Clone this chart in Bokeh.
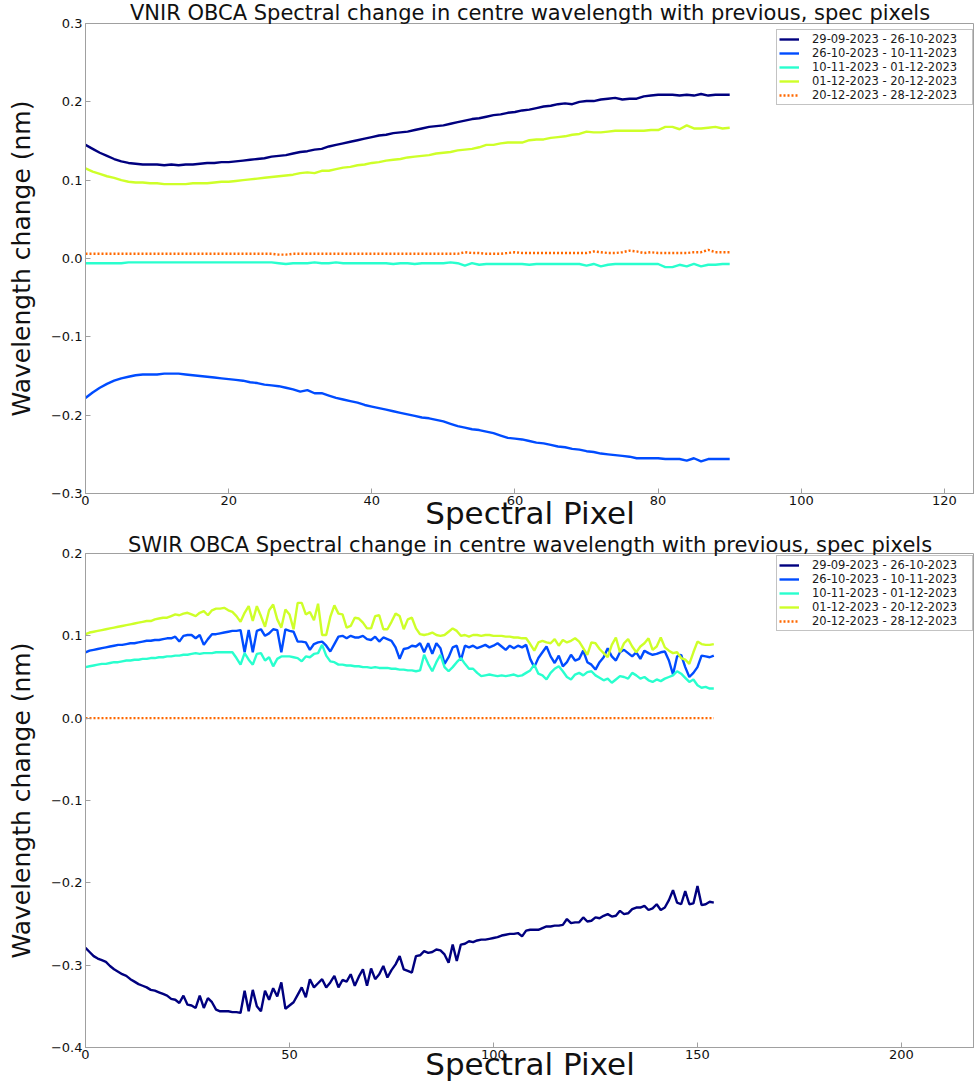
from bokeh.plotting import figure
from bokeh.layouts import column
from bokeh.models import Range1d, FixedTicker, CustomJSTickFormatter, Legend, LegendItem
from bokeh.embed import file_html
from bokeh.resources import INLINE

# ---------------- data ----------------
period_labels = [
    "29-09-2023 - 26-10-2023",
    "26-10-2023 - 10-11-2023",
    "10-11-2023 - 01-12-2023",
    "01-12-2023 - 20-12-2023",
    "20-12-2023 - 28-12-2023",
]
series_colors = ["#00007f", "#004cff", "#29ffce", "#ceff29", "#ff6800"]

vnir_pixels = list(range(91))
vnir_p1 = [
    0.145, 0.140, 0.135, 0.131, 0.127, 0.124, 0.122, 0.121, 0.120, 0.120,
    0.120, 0.119, 0.120, 0.119, 0.120, 0.120, 0.121, 0.122, 0.122, 0.123,
    0.123, 0.124, 0.125, 0.126, 0.127, 0.128, 0.130, 0.131, 0.132, 0.134,
    0.136, 0.137, 0.139, 0.140, 0.143, 0.145, 0.147, 0.149, 0.151, 0.153,
    0.155, 0.157, 0.158, 0.160, 0.161, 0.162, 0.164, 0.166, 0.168, 0.169,
    0.170, 0.172, 0.174, 0.176, 0.178, 0.179, 0.181, 0.183, 0.184, 0.186,
    0.187, 0.189, 0.190, 0.192, 0.194, 0.195, 0.197, 0.198, 0.197, 0.200,
    0.201, 0.201, 0.203, 0.204, 0.205, 0.203, 0.204, 0.204, 0.207, 0.208,
    0.209, 0.209, 0.209, 0.208, 0.209, 0.208, 0.210, 0.208, 0.209, 0.209,
    0.209,
]
vnir_p2 = [
    -0.178, -0.171, -0.165, -0.160, -0.156, -0.153, -0.151, -0.149, -0.148, -0.148,
    -0.148, -0.147, -0.147, -0.147, -0.148, -0.149, -0.150, -0.151, -0.152, -0.153,
    -0.154, -0.155, -0.156, -0.158, -0.159, -0.161, -0.162, -0.163, -0.165, -0.167,
    -0.170, -0.168, -0.172, -0.172, -0.175, -0.178, -0.180, -0.182, -0.184, -0.187,
    -0.189, -0.191, -0.193, -0.195, -0.197, -0.199, -0.201, -0.203, -0.204, -0.206,
    -0.208, -0.211, -0.214, -0.216, -0.218, -0.219, -0.221, -0.223, -0.226, -0.229,
    -0.230, -0.231, -0.233, -0.235, -0.236, -0.238, -0.240, -0.241, -0.243, -0.244,
    -0.246, -0.247, -0.249, -0.250, -0.251, -0.252, -0.253, -0.255, -0.255, -0.255,
    -0.255, -0.256, -0.256, -0.256, -0.258, -0.255, -0.259, -0.256, -0.256, -0.256,
    -0.256,
]
vnir_p3 = [
    -0.006, -0.006, -0.006, -0.006, -0.006, -0.006, -0.005, -0.005, -0.005, -0.005,
    -0.005, -0.005, -0.005, -0.005, -0.005, -0.005, -0.005, -0.005, -0.005, -0.005,
    -0.005, -0.005, -0.005, -0.005, -0.005, -0.005, -0.005, -0.006, -0.007, -0.006,
    -0.006, -0.006, -0.005, -0.006, -0.006, -0.005, -0.006, -0.006, -0.006, -0.006,
    -0.006, -0.006, -0.006, -0.007, -0.006, -0.006, -0.007, -0.006, -0.006, -0.006,
    -0.006, -0.005, -0.006, -0.009, -0.006, -0.008, -0.007, -0.007, -0.007, -0.007,
    -0.007, -0.007, -0.008, -0.007, -0.007, -0.007, -0.007, -0.007, -0.007, -0.007,
    -0.009, -0.007, -0.010, -0.008, -0.007, -0.007, -0.007, -0.007, -0.007, -0.007,
    -0.007, -0.011, -0.011, -0.008, -0.010, -0.007, -0.010, -0.008, -0.008, -0.007,
    -0.007,
]
vnir_p4 = [
    0.115, 0.111, 0.108, 0.105, 0.103, 0.100, 0.098, 0.097, 0.097, 0.096,
    0.096, 0.095, 0.095, 0.095, 0.095, 0.096, 0.096, 0.096, 0.097, 0.098,
    0.098, 0.099, 0.100, 0.101, 0.102, 0.103, 0.104, 0.105, 0.106, 0.107,
    0.109, 0.110, 0.109, 0.112, 0.112, 0.114, 0.116, 0.117, 0.119, 0.120,
    0.122, 0.123, 0.125, 0.126, 0.127, 0.129, 0.130, 0.131, 0.132, 0.134,
    0.135, 0.136, 0.138, 0.139, 0.140, 0.142, 0.145, 0.145, 0.147, 0.148,
    0.148, 0.148, 0.151, 0.152, 0.152, 0.154, 0.155, 0.156, 0.158, 0.159,
    0.162, 0.161, 0.161, 0.162, 0.163, 0.163, 0.163, 0.163, 0.163, 0.164,
    0.164, 0.168, 0.168, 0.165, 0.170, 0.166, 0.166, 0.167, 0.168, 0.166,
    0.167,
]
vnir_p5 = [
    0.006, 0.006, 0.006, 0.006, 0.006, 0.006, 0.006, 0.006, 0.006, 0.006,
    0.006, 0.006, 0.006, 0.006, 0.006, 0.006, 0.006, 0.006, 0.006, 0.006,
    0.006, 0.006, 0.006, 0.006, 0.006, 0.006, 0.006, 0.005, 0.005, 0.006,
    0.006, 0.006, 0.006, 0.006, 0.006, 0.006, 0.006, 0.006, 0.006, 0.006,
    0.006, 0.006, 0.006, 0.006, 0.006, 0.006, 0.006, 0.006, 0.006, 0.006,
    0.006, 0.006, 0.006, 0.008, 0.007, 0.007, 0.006, 0.006, 0.006, 0.007,
    0.008, 0.007, 0.007, 0.007, 0.007, 0.007, 0.007, 0.007, 0.007, 0.007,
    0.007, 0.009, 0.008, 0.007, 0.007, 0.008, 0.010, 0.009, 0.007, 0.008,
    0.007, 0.007, 0.007, 0.007, 0.007, 0.008, 0.008, 0.011, 0.008, 0.008,
    0.008,
]

swir_pixels = list(range(155))
swir_p1 = [
    -0.279, -0.284, -0.289, -0.292, -0.294, -0.296, -0.301, -0.305, -0.308, -0.311,
    -0.313, -0.317, -0.320, -0.323, -0.325, -0.327, -0.330, -0.331, -0.333, -0.335,
    -0.337, -0.341, -0.342, -0.346, -0.337, -0.348, -0.349, -0.352, -0.337, -0.352,
    -0.340, -0.345, -0.354, -0.356, -0.356, -0.356, -0.357, -0.357, -0.358, -0.331,
    -0.356, -0.330, -0.350, -0.356, -0.331, -0.342, -0.328, -0.338, -0.321, -0.353,
    -0.349, -0.345, -0.336, -0.327, -0.339, -0.317, -0.327, -0.322, -0.317, -0.327,
    -0.321, -0.313, -0.327, -0.318, -0.320, -0.311, -0.325, -0.314, -0.305, -0.325,
    -0.304, -0.317, -0.311, -0.301, -0.315, -0.306, -0.299, -0.289, -0.305, -0.307,
    -0.309, -0.289, -0.288, -0.283, -0.285, -0.284, -0.281, -0.282, -0.287, -0.297,
    -0.275, -0.295, -0.275, -0.274, -0.271, -0.272, -0.270, -0.269, -0.269, -0.268,
    -0.267, -0.266, -0.264, -0.263, -0.262, -0.262, -0.261, -0.265, -0.258, -0.257,
    -0.257, -0.257, -0.255, -0.253, -0.253, -0.252, -0.252, -0.251, -0.244, -0.249,
    -0.248, -0.248, -0.242, -0.247, -0.246, -0.242, -0.243, -0.240, -0.238, -0.241,
    -0.240, -0.234, -0.238, -0.237, -0.232, -0.230, -0.230, -0.228, -0.233, -0.231,
    -0.226, -0.233, -0.230, -0.221, -0.209, -0.224, -0.226, -0.210, -0.226, -0.225,
    -0.204, -0.227, -0.226, -0.223, -0.224,
]
swir_p2 = [
    0.080, 0.082, 0.083, 0.084, 0.085, 0.086, 0.087, 0.088, 0.089, 0.089,
    0.090, 0.091, 0.091, 0.092, 0.093, 0.094, 0.094, 0.095, 0.095, 0.096,
    0.097, 0.097, 0.099, 0.093, 0.100, 0.101, 0.101, 0.097, 0.101, 0.089,
    0.096, 0.102, 0.102, 0.103, 0.104, 0.105, 0.106, 0.106, 0.107, 0.080,
    0.107, 0.080, 0.106, 0.108, 0.100, 0.103, 0.108, 0.107, 0.080, 0.108,
    0.106, 0.105, 0.093, 0.093, 0.092, 0.083, 0.090, 0.092, 0.093, 0.088,
    0.081, 0.090, 0.099, 0.100, 0.097, 0.100, 0.098, 0.098, 0.100, 0.096,
    0.095, 0.099, 0.093, 0.098, 0.096, 0.094, 0.086, 0.072, 0.084, 0.085,
    0.088, 0.087, 0.091, 0.080, 0.091, 0.078, 0.091, 0.085, 0.066, 0.074,
    0.086, 0.088, 0.070, 0.088, 0.086, 0.088, 0.085, 0.087, 0.089, 0.086,
    0.088, 0.091, 0.087, 0.083, 0.088, 0.085, 0.088, 0.086, 0.089, 0.072,
    0.062, 0.073, 0.080, 0.087, 0.075, 0.067, 0.076, 0.063, 0.068, 0.077,
    0.070, 0.072, 0.082, 0.068, 0.065, 0.059, 0.068, 0.074, 0.085, 0.075,
    0.070, 0.080, 0.083, 0.079, 0.075, 0.080, 0.072, 0.082, 0.079, 0.077,
    0.078, 0.080, 0.081, 0.070, 0.053, 0.075, 0.077, 0.062, 0.050, 0.055,
    0.062, 0.076, 0.075, 0.074, 0.076,
]
swir_p3 = [
    0.062, 0.063, 0.064, 0.065, 0.066, 0.066, 0.067, 0.068, 0.068, 0.069,
    0.070, 0.070, 0.071, 0.071, 0.072, 0.072, 0.073, 0.073, 0.074, 0.074,
    0.075, 0.075, 0.076, 0.076, 0.077, 0.077, 0.078, 0.079, 0.078, 0.079,
    0.079, 0.079, 0.080, 0.080, 0.080, 0.080, 0.080, 0.073, 0.065, 0.079,
    0.071, 0.065, 0.078, 0.079, 0.070, 0.074, 0.063, 0.072, 0.075, 0.075,
    0.075, 0.074, 0.073, 0.069, 0.075, 0.074, 0.078, 0.079, 0.089, 0.076,
    0.069, 0.068, 0.065, 0.065, 0.064, 0.064, 0.063, 0.063, 0.062, 0.062,
    0.061, 0.062, 0.061, 0.061, 0.061, 0.060, 0.060, 0.059, 0.059, 0.058,
    0.058, 0.057, 0.058, 0.077, 0.066, 0.057, 0.068, 0.077, 0.062, 0.057,
    0.062, 0.068, 0.073, 0.066, 0.060, 0.060, 0.055, 0.051, 0.052, 0.053,
    0.052, 0.051, 0.052, 0.051, 0.052, 0.053, 0.051, 0.052, 0.055, 0.058,
    0.065, 0.054, 0.052, 0.047, 0.055, 0.060, 0.063, 0.057, 0.050, 0.047,
    0.053, 0.055, 0.052, 0.056, 0.057, 0.052, 0.049, 0.046, 0.048, 0.043,
    0.047, 0.051, 0.050, 0.048, 0.055, 0.052, 0.048, 0.050, 0.046, 0.044,
    0.047, 0.045, 0.048, 0.050, 0.052, 0.057, 0.054, 0.049, 0.044, 0.047,
    0.040, 0.037, 0.038, 0.036, 0.036,
]
swir_p4 = [
    0.102, 0.104, 0.105, 0.106, 0.107, 0.108, 0.109, 0.110, 0.111, 0.112,
    0.113, 0.114, 0.115, 0.116, 0.117, 0.118, 0.118, 0.120, 0.121, 0.122,
    0.122, 0.124, 0.126, 0.125, 0.127, 0.128, 0.126, 0.124, 0.128, 0.130,
    0.125, 0.131, 0.133, 0.133, 0.134, 0.131, 0.129, 0.124, 0.117, 0.128,
    0.136, 0.118, 0.136, 0.124, 0.111, 0.131, 0.138, 0.120, 0.110, 0.132,
    0.126, 0.108, 0.140, 0.140, 0.126, 0.129, 0.119, 0.139, 0.101, 0.101,
    0.123, 0.137, 0.127, 0.126, 0.110, 0.112, 0.122, 0.121, 0.116, 0.109,
    0.109, 0.124, 0.125, 0.108, 0.108, 0.117, 0.127, 0.124, 0.108, 0.120,
    0.122, 0.109, 0.102, 0.101, 0.102, 0.104, 0.101, 0.100, 0.101, 0.105,
    0.109, 0.106, 0.100, 0.101, 0.099, 0.101, 0.101, 0.100, 0.101, 0.101,
    0.100, 0.100, 0.100, 0.099, 0.099, 0.098, 0.098, 0.097, 0.097, 0.090,
    0.082, 0.092, 0.094, 0.092, 0.091, 0.096, 0.088, 0.095, 0.092, 0.094,
    0.097, 0.093, 0.085, 0.077, 0.092, 0.091, 0.084, 0.079, 0.074, 0.089,
    0.098, 0.080, 0.091, 0.096, 0.087, 0.080, 0.087, 0.091, 0.097, 0.083,
    0.087, 0.098, 0.086, 0.082, 0.079, 0.080, 0.073, 0.071, 0.066, 0.080,
    0.093, 0.090, 0.089, 0.089, 0.090,
]
swir_p5 = [
    0.000, 0.000, 0.000, 0.000, 0.000, 0.000, 0.000, 0.000, 0.000, 0.000,
    0.000, 0.000, 0.000, 0.000, 0.000, 0.000, 0.000, 0.000, 0.000, 0.000,
    0.000, 0.000, 0.000, 0.000, 0.000, 0.000, 0.000, 0.000, 0.000, 0.000,
    0.000, 0.000, 0.000, 0.000, 0.000, 0.000, 0.000, 0.000, 0.000, 0.000,
    0.000, 0.000, 0.000, 0.000, 0.000, 0.000, 0.000, 0.000, 0.000, 0.000,
    0.000, 0.000, 0.000, 0.000, 0.000, 0.000, 0.000, 0.000, 0.000, 0.000,
    0.000, 0.000, 0.000, 0.000, 0.000, 0.000, 0.000, 0.000, 0.000, 0.000,
    0.000, 0.000, 0.000, 0.000, 0.000, 0.000, 0.000, 0.000, 0.000, 0.000,
    0.000, 0.000, 0.000, 0.000, 0.000, 0.000, 0.000, 0.000, 0.000, 0.000,
    0.000, 0.000, 0.000, 0.000, 0.000, 0.000, 0.000, 0.000, 0.000, 0.000,
    0.000, 0.000, 0.000, 0.000, 0.000, 0.000, 0.000, 0.000, 0.000, 0.000,
    0.000, 0.000, 0.000, 0.000, 0.000, 0.000, 0.000, 0.000, 0.000, 0.000,
    0.000, 0.000, 0.000, 0.000, 0.000, 0.000, 0.000, 0.000, 0.000, 0.000,
    0.000, 0.000, 0.000, 0.000, 0.000, 0.000, 0.000, 0.000, 0.000, 0.000,
    0.000, 0.000, 0.000, 0.000, 0.000, 0.000, 0.000, 0.000, 0.000, 0.000,
    0.000, 0.000, 0.000, 0.000, 0.000,
]

vnir_xticks = [0, 20, 40, 60, 80, 100, 120]
vnir_yticks = [-0.3, -0.2, -0.1, 0.0, 0.1, 0.2, 0.3]
swir_xticks = [0, 50, 100, 150, 200]
swir_yticks = [-0.4, -0.3, -0.2, -0.1, 0.0, 0.1, 0.2]

FONT = "DejaVu Sans"
GRAY = "#a0a0a0"


def make_panel(title, xs, ys_list, x_end, y_range, xticks, yticks,
               frame_h, title_standoff, label_standoff, legend_loc):
    p = figure(frame_width=889, frame_height=frame_h,
               x_range=Range1d(0, x_end), y_range=Range1d(*y_range),
               output_backend="svg", toolbar_location=None,
               min_border_left=85, min_border_right=0, min_border_top=0,
               min_border_bottom=0)
    p.background_fill_color = "white"
    p.border_fill_color = "white"
    p.outline_line_color = GRAY
    p.xgrid.visible = False
    p.ygrid.visible = False

    p.title.text = title
    p.title.align = "center"
    p.title.text_font = FONT
    p.title.text_font_size = "21px"
    p.title.text_font_style = "normal"
    p.title.text_color = "#111111"
    p.title.standoff = title_standoff

    items = []
    for ys, lab, col in zip(ys_list, period_labels, series_colors):
        dash = "2 2" if lab == period_labels[-1] else "solid"
        r = p.line(xs, ys, line_color=col, line_width=2.4, line_dash=dash)
        items.append(LegendItem(label=lab, renderers=[r]))

    leg = Legend(items=items, location=legend_loc)
    leg.label_text_font = FONT
    leg.label_text_font_size = "11.5px"
    leg.label_text_color = "#1a1a1a"
    leg.glyph_width = 20
    leg.glyph_height = 12
    leg.label_height = 12
    leg.label_width = 158
    leg.spacing = 0
    leg.padding = 2
    leg.margin = 0
    leg.label_standoff = 13
    leg.border_line_color = "#888888"
    leg.background_fill_alpha = 1.0
    p.add_layout(leg)

    for ax in (p.xaxis[0], p.yaxis[0]):
        ax.axis_line_color = GRAY
        ax.major_tick_line_color = GRAY
        ax.major_tick_in = 5
        ax.major_tick_out = 0
        ax.minor_tick_line_color = None
        ax.major_label_text_font = FONT
        ax.major_label_text_font_size = "13px"
        ax.major_label_text_color = "#111111"
        ax.axis_label_text_font = FONT
        ax.axis_label_text_font_style = "normal"
        ax.axis_label_text_color = "#111111"

    p.xaxis.ticker = FixedTicker(ticks=xticks)
    p.yaxis.ticker = FixedTicker(ticks=yticks)
    p.xaxis.formatter = CustomJSTickFormatter(code="return String(Math.round(tick));")
    p.yaxis.formatter = CustomJSTickFormatter(
        code="return tick.toFixed(1).replace('-', '\u2212');")
    p.xaxis.axis_label = "Spectral Pixel"
    p.xaxis.axis_label_text_font_size = "31px"
    p.xaxis.axis_label_standoff = label_standoff
    p.xaxis.major_label_standoff = 2
    p.yaxis.axis_label = "Wavelength change (nm)"
    p.yaxis.axis_label_text_font_size = "25px"
    p.yaxis.axis_label_standoff = 12
    p.yaxis.major_label_standoff = 3
    return p


p1 = make_panel("VNIR OBCA Spectral change in centre wavelength with previous, spec pixels",
                vnir_pixels, [vnir_p1, vnir_p2, vnir_p3, vnir_p4, vnir_p5],
                124.2, (-0.3, 0.3), vnir_xticks, vnir_yticks,
                470, -3, -13, (691, 388))
p2 = make_panel("SWIR OBCA Spectral change in centre wavelength with previous, spec pixels",
                swir_pixels, [swir_p1, swir_p2, swir_p3, swir_p4, swir_p5],
                217.9, (-0.4, 0.2), swir_xticks, swir_yticks,
                494, -6, -16, (691, 416))

layout = column(p1, p2, spacing=0)
open("out.html", "w").write(file_html(layout, INLINE))
